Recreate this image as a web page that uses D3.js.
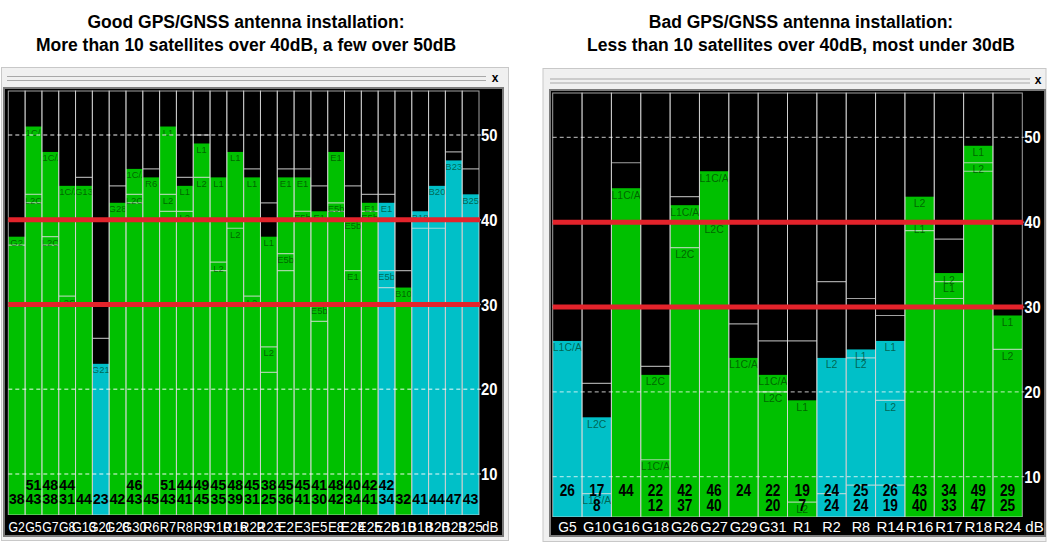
<!DOCTYPE html>
<html><head><meta charset="utf-8">
<script src="https://cdn.jsdelivr.net/npm/d3@7"></script>
<style>body{margin:0;background:#fff;}svg{display:block;}</style>
</head><body>
<svg id="c" width="1047" height="543"></svg>
<script>
// ---------- data ----------
const tickValues = [10, 20, 30, 40, 50];
const redLevels = [30, 40];

const leftTitle = ["Good GPS/GNSS antenna installation:", "More than 10 satellites over 40dB, a few over 50dB"];
const rightTitle = ["Bad GPS/GNSS antenna installation:", "Less than 10 satellites over 40dB, most under 30dB"];

const leftNames = ["G2","G5","G7","G8","G13","G21","G28","G30","R6","R7","R8","R9","R10","R16","R22","R23","E2","E3","E5","E8","E24","E25","E26","B10","B18","B20","B23","B25"];
const leftColors = ["g","g","g","g","g","c","g","g","g","g","g","g","g","g","g","g","g","g","g","g","g","g","c","g","c","c","c","c"];
const leftOutline = [null,null,null,null,45,26,44,null,46,null,45,50,null,null,46,42,46,46,44,null,44,43,43,34,null,null,48,46];
const leftSignals = [
  [["G2",38]],[["L1C/A",51],["L2C",43]],[["L1C/A",48],["L2C",38]],[["L1C/A",44],["L2C",31]],
  [["G13",44]],[["G21",23]],[["G28",42]],[["L1C/A",46],["L2C",43]],[["R6",45]],
  [["L1",51],["L2",43]],[["L1",44],["L2",41]],[["L1",49],["L2",45]],[["L1",45],["L2",35]],
  [["L1",48],["L2",39]],[["L1",45],["L2",31]],[["L1",38],["L2",25]],
  [["E1",45],["E5b",36]],[["E1",45],["E5b",41]],[["E1",41],["E5b",30]],[["E1",48],["E5b",42]],
  [["E5b",40],["E1",34]],[["E1",42],["E5b",41]],[["E1",42],["E5b",34]],
  [["B10",32]],[["B18",41]],[["B20",44]],[["B23",47]],[["B25",43]]
];
const leftExtra = [[37],[42],[37],[],[],[],[],[42],[],[41],[],[],[34],[],[],[22],[34],[],[28],[41],[],[],[32],[],[39],[39],[],[]];
const leftTopNum = ["",51,48,44,"","","",46,"",51,44,49,45,48,45,38,45,45,41,48,40,42,42,"","","","",""];
const leftBottomNum = [38,43,38,31,44,23,42,43,45,43,41,45,35,39,31,25,36,41,30,42,34,41,34,32,41,44,47,43];

const rightNames = ["G5","G10","G16","G18","G26","G27","G29","G31","R1","R2","R8","R14","R16","R17","R18","R24"];
const rightColors = ["c","c","g","g","g","g","g","g","g","c","c","c","g","g","g","g"];
const rightOutline = [null,21,47,23,43,null,28,26,26,33,31,29,null,38,null,null];
const rightSignals = [
  [["L1C/A",26]],[["L2C",17],["L1C/A",8]],[["L1C/A",44]],[["L2C",22],["L1C/A",12]],
  [["L1C/A",42],["L2C",37]],[["L1C/A",46],["L2C",40]],[["L1C/A",24]],[["L1C/A",22],["L2C",20]],
  [["L1",19],["L2",7]],[["L2",24]],[["L1",25],["L2",24]],[["L1",26],["L2",19]],
  [["L2",43],["L1",40]],[["L2",34],["L1",33]],[["L1",49],["L2",47]],[["L1",29],["L2",25]]
];
const rightExtra = [[],[],[],[],[],[],[],[],[],[8],[9],[9],[39],[31],[46],[]];
const rightTopNum = [26,17,44,22,42,46,24,22,19,24,25,26,43,34,49,29];
const rightBottomNum = ["",8,"",12,37,40,"",20,7,24,24,19,40,33,47,25];

// ---------- drawing ----------
const svg = d3.select("#c");
const COLORS = {g: "#00c000", c: "#00c0c8"};
const SANS = "'Liberation Sans',Arial,sans-serif";

function narrow(sel, charW) {
  sel.each(function () {
    const t = String(d3.select(this).text());
    if (t.length) d3.select(this).attr("textLength", t.length * charW).attr("lengthAdjust", "spacingAndGlyphs");
  });
}

function drawPanel(cfg) {
  const g = svg.append("g");
  // window chrome
  g.append("rect").attr("x", cfg.win[0]).attr("y", cfg.win[1]).attr("width", cfg.win[2]).attr("height", cfg.win[3])
    .attr("fill", "#f0f0f0").attr("stroke", "#c8c8c8");
  [0, 4].forEach(dy => g.append("line").attr("x1", cfg.bar[0]).attr("x2", cfg.bar[1])
    .attr("y1", cfg.bar[2] + dy).attr("y2", cfg.bar[2] + dy).attr("stroke", "#a8a8a8").attr("stroke-width", 1.2));
  g.append("text").attr("x", cfg.xMark[0]).attr("y", cfg.xMark[1]).attr("text-anchor", "middle")
    .attr("font-family", SANS).attr("font-weight", "bold").attr("font-size", 12).text("x");
  g.append("rect").attr("x", cfg.frame[0]).attr("y", cfg.frame[1]).attr("width", cfg.frame[2]).attr("height", cfg.frame[3])
    .attr("fill", "#000").attr("stroke", "#7a7a7a").attr("stroke-width", 2);

  const x = d3.scaleBand().domain(cfg.names).range([cfg.x0, cfg.x1]);
  const y = d3.scaleLinear().domain([10, 50]).range([cfg.y10, cfg.y50]);
  const bw = x.bandwidth();

  const cols = cfg.names.map((n, i) => ({
    name: n, color: cfg.colors[i], outline: cfg.outline[i], signals: cfg.signals[i],
    extra: cfg.extra[i], top: cfg.topNum[i], bottom: cfg.bottomNum[i],
    fill: d3.max(cfg.signals[i], s => s[1])
  }));

  const defs = svg.append("defs");
  cols.forEach((d, i) => {
    defs.append("clipPath").attr("id", cfg.id + "clip" + i).append("rect")
      .attr("x", x(d.name)).attr("y", cfg.yTop).attr("width", bw).attr("height", cfg.yBottom - cfg.yTop);
  });

  const cg = g.selectAll("g.col").data(cols).join("g").attr("class", "col")
    .attr("clip-path", (d, i) => `url(#${cfg.id}clip${i})`);

  cg.append("rect").attr("x", d => x(d.name)).attr("width", bw)
    .attr("y", d => y(d.fill)).attr("height", d => cfg.yBottom - y(d.fill))
    .attr("fill", d => COLORS[d.color]);

  const lineColor = "rgba(225,225,225,0.72)";
  cg.each(function (d) {
    const sel = d3.select(this);
    const levels = [];
    if (d.outline != null) levels.push(d.outline);
    d.signals.forEach(s => { if (s[1] < d.fill) levels.push(s[1]); });
    d.extra.forEach(v => levels.push(v));
    sel.selectAll("line.lv").data(levels).join("line").attr("class", "lv")
      .attr("x1", x(d.name)).attr("x2", x(d.name) + bw)
      .attr("y1", v => y(v)).attr("y2", v => y(v))
      .attr("stroke", lineColor).attr("stroke-width", 1.2);
    sel.selectAll("text.sig").data(d.signals).join("text").attr("class", "sig")
      .attr("x", x(d.name) + bw / 2).attr("y", s => y(s[1]) + cfg.labelDy)
      .attr("text-anchor", "middle").attr("font-family", SANS).attr("font-size", cfg.labelSize)
      .attr("fill", "rgba(0,40,0,0.6)").text(s => s[0]);
  });

  // column borders
  g.selectAll("rect.cb").data(cols).join("rect").attr("class", "cb")
    .attr("x", d => x(d.name)).attr("width", bw).attr("y", cfg.yTop).attr("height", cfg.yBottom - cfg.yTop)
    .attr("fill", "none").attr("stroke", lineColor).attr("stroke-width", 1);

  // dashed grid
  g.selectAll("line.grid").data(tickValues).join("line").attr("class", "grid")
    .attr("x1", cfg.x0).attr("x2", cfg.x1 + 2).attr("y1", d => y(d)).attr("y2", d => y(d))
    .attr("stroke", "rgba(255,255,255,0.62)").attr("stroke-width", 1.3).attr("stroke-dasharray", "4,3");
  // red lines
  g.selectAll("line.red").data(redLevels).join("line").attr("class", "red")
    .attr("x1", cfg.x0).attr("x2", cfg.x1 + 1).attr("y1", d => y(d)).attr("y2", d => y(d))
    .attr("stroke", "#e3232b").attr("stroke-width", 5);

  // right axis tick labels
  g.selectAll("text.tick").data(tickValues).join("text").attr("class", "tick")
    .attr("x", cfg.x1 + 2).attr("y", d => y(d) + 6).attr("fill", "#fff")
    .attr("font-family", SANS).attr("font-weight", "bold").attr("font-size", 16).text(d => d)
    .call(narrow, 8.2);

  // numbers
  g.selectAll("text.ntop").data(cols).join("text").attr("class", "ntop")
    .attr("x", d => x(d.name) + bw / 2).attr("y", cfg.numY[0]).attr("text-anchor", "middle")
    .attr("font-family", SANS).attr("font-weight", "bold").attr("font-size", cfg.numSize)
    .attr("fill", "#000").text(d => d.top).call(narrow, cfg.numW);
  g.selectAll("text.nbot").data(cols).join("text").attr("class", "nbot")
    .attr("x", d => x(d.name) + bw / 2).attr("y", cfg.numY[1]).attr("text-anchor", "middle")
    .attr("font-family", SANS).attr("font-weight", "bold").attr("font-size", cfg.numSize)
    .attr("fill", "#000").text(d => d.bottom).call(narrow, cfg.numW);

  // names strip
  g.append("rect").attr("x", cfg.frame[0] + 1).attr("y", cfg.yBottom).attr("width", cfg.frame[2] - 2)
    .attr("height", cfg.frame[1] + cfg.frame[3] - cfg.yBottom - 1).attr("fill", "#000");
  g.selectAll("text.nm").data(cols).join("text").attr("class", "nm")
    .attr("x", d => x(d.name) + bw / 2).attr("y", cfg.nameY).attr("text-anchor", "middle")
    .attr("font-family", SANS).attr("font-size", cfg.nameSize).attr("fill", "#fff").text(d => d.name)
    .call(narrow, cfg.nameW);
  g.append("text").attr("x", cfg.x1 + 3).attr("y", cfg.nameY).attr("font-family", SANS)
    .attr("font-size", cfg.nameSize).attr("fill", "#fff").text("dB").call(narrow, cfg.nameW);

  // titles
  cfg.title.forEach((t, i) => g.append("text").attr("x", cfg.titleX).attr("y", 28 + i * 23)
    .attr("text-anchor", "middle").attr("font-family", SANS).attr("font-weight", "bold")
    .attr("font-size", 17.5).attr("fill", "#000").text(t));
}

drawPanel({
  id: "L", names: leftNames, colors: leftColors, outline: leftOutline, signals: leftSignals,
  extra: leftExtra, topNum: leftTopNum, bottomNum: leftBottomNum, title: leftTitle, titleX: 246,
  win: [1.5, 67.5, 507, 473], bar: [7, 486, 76.5], xMark: [495, 82], frame: [4, 88, 499, 448],
  x0: 8.3, x1: 479, yTop: 91, yBottom: 515, y10: 474, y50: 135,
  labelDy: 9.5, labelSize: 9.5, numY: [489.5, 503.5], numSize: 14, numW: 7.8,
  nameY: 531.5, nameSize: 15, nameW: 8.2
});
drawPanel({
  id: "R", names: rightNames, colors: rightColors, outline: rightOutline, signals: rightSignals,
  extra: rightExtra, topNum: rightTopNum, bottomNum: rightBottomNum, title: rightTitle, titleX: 801,
  win: [543, 68.5, 503, 473], bar: [550, 1030, 79], xMark: [1038, 84], frame: [550, 90, 495, 446],
  x0: 552.7, x1: 1022.3, yTop: 93, yBottom: 517, y10: 476.7, y50: 137.3,
  labelDy: 10.5, labelSize: 10.5, numY: [495.5, 511], numSize: 16, numW: 7.6,
  nameY: 532, nameSize: 15.5, nameW: 9.2
});
</script>
</body></html>
